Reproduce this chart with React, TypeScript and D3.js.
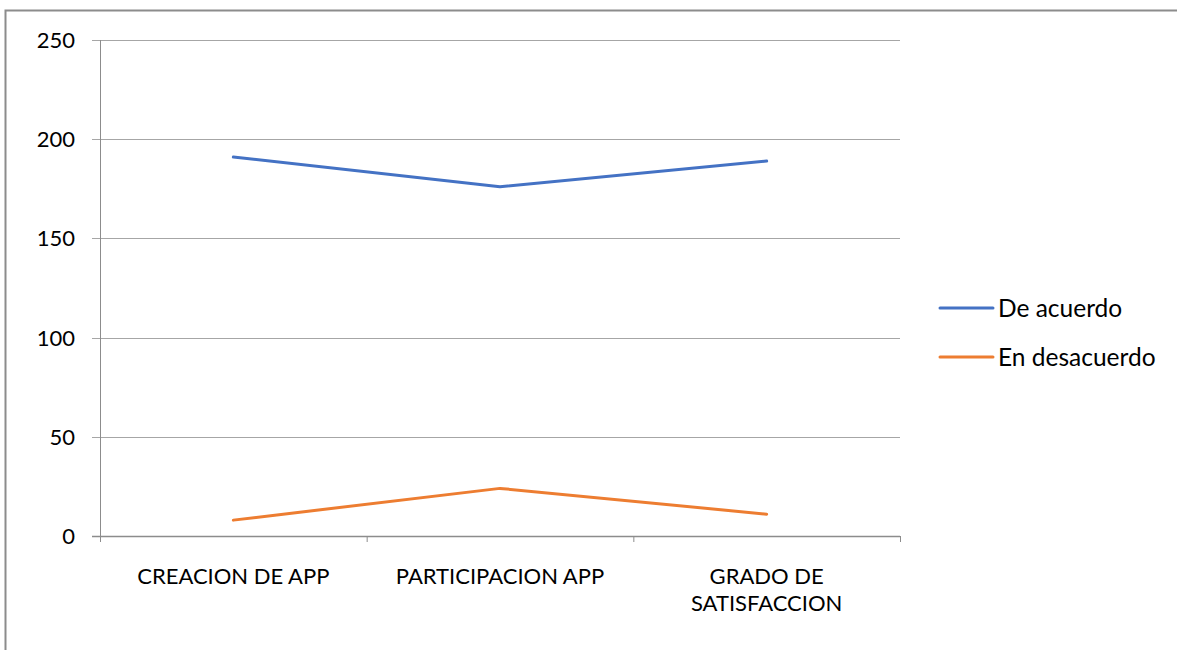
import React from 'react';
import * as d3 from 'd3';

const categories = ['CREACION DE APP', 'PARTICIPACION APP', 'GRADO DE SATISFACCION'];
const categoryLines = [['CREACION DE APP'], ['PARTICIPACION APP'], ['GRADO DE', 'SATISFACCION']];
const deAcuerdo = [191, 176, 189];
const enDesacuerdo = [8, 24, 11];
const yTicks = [0, 50, 100, 150, 200, 250];
const seriesNames = ['De acuerdo', 'En desacuerdo'];
const seriesColors = ['#4472C4', '#ED7D31'];

const W = 1177;
const H = 650;
const plot = { left: 100, right: 900, top: 40, bottom: 536 };
const font = 'Lato, "Open Sans", sans-serif';

export default function App() {
  const x = d3.scaleBand<string>().domain(categories).range([plot.left, plot.right]);
  const y = d3.scaleLinear().domain([0, 250]).range([plot.bottom, plot.top]);
  const line = d3.line<number>()
    .x((_, i) => (x(categories[i]) as number) + x.bandwidth() / 2)
    .y(d => y(d));
  const series = [deAcuerdo, enDesacuerdo];

  return (
    <svg width={W} height={H} style={{ position: 'absolute', left: 0, top: 0, background: '#fff' }}
      fontFamily={font}>
      <rect x={0} y={0} width={W} height={H} fill="#fff" />
      {/* outer chart border, runs off right/bottom */}
      <rect x={5.5} y={10.5} width={W + 20} height={H + 20} fill="none" stroke="#8c8c8c" strokeWidth={2} />

      {/* grid + y ticks */}
      {yTicks.map(t => (
        <g key={t}>
          <line x1={plot.left - 8} x2={plot.right} y1={Math.round(y(t)) + 0.5} y2={Math.round(y(t)) + 0.5}
            stroke={t === 0 ? '#8c8c8c' : '#a6a6a6'} strokeWidth={t === 0 ? 1.5 : 1} />
          <text x={75} y={y(t)} dy="0.36em" textAnchor="end" fontSize={22} fill="#000">{t}</text>
        </g>
      ))}
      <line x1={plot.left + 0.5} x2={plot.left + 0.5} y1={plot.top} y2={plot.bottom + 6} stroke="#8c8c8c" strokeWidth={1} />

      {/* x ticks at band edges */}
      {categories.map(c => (
        <line key={c} x1={(x(c) as number) + x.bandwidth() + 0.5} x2={(x(c) as number) + x.bandwidth() + 0.5}
          y1={plot.bottom} y2={plot.bottom + 6} stroke="#8c8c8c" />
      ))}
      {categories.map((c, i) => (
        <text key={c} x={(x(c) as number) + x.bandwidth() / 2} y={576} textAnchor="middle" fontSize={22} fill="#000">
          {categoryLines[i].map((l, j) => (
            <tspan key={j} x={(x(c) as number) + x.bandwidth() / 2} dy={j === 0 ? '0.36em' : 27}>{l}</tspan>
          ))}
        </text>
      ))}

      {series.map((s, i) => (
        <path key={i} d={line(s) || ''} fill="none" stroke={seriesColors[i]} strokeWidth={3} strokeLinecap="round" strokeLinejoin="round" />
      ))}

      {/* legend */}
      {seriesNames.map((n, i) => (
        <g key={n} transform={`translate(940,${308 + i * 49})`}>
          <line x1={0} x2={53} y1={0} y2={0} stroke={seriesColors[i]} strokeWidth={3} strokeLinecap="round" />
          <text x={58} y={0} dy="0.36em" fontSize={24.5} fill="#000">{n}</text>
        </g>
      ))}
    </svg>
  );
}
